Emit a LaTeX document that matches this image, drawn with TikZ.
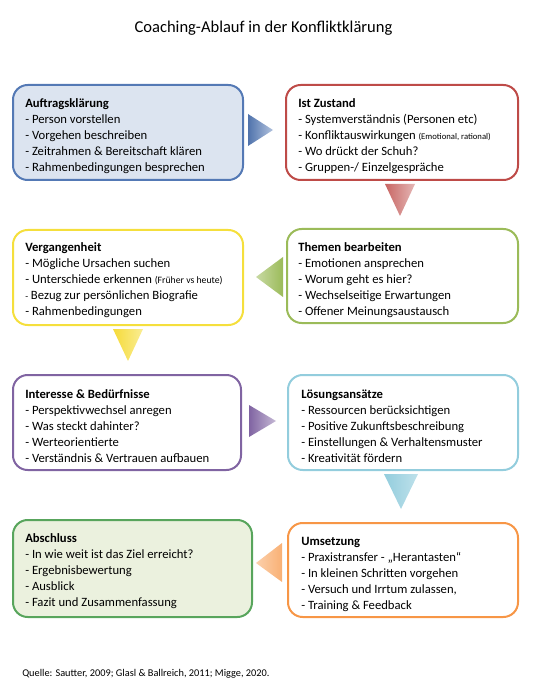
\documentclass[tikz,border=0pt]{standalone}
\usepackage{fontspec}
\setmainfont{Carlito}
\usetikzlibrary{calc}
\definecolor{bBlue}{HTML}{5479B5}
\definecolor{fBlue}{HTML}{DCE4F0}
\definecolor{bRed}{HTML}{BE4B48}
\definecolor{bYellow}{HTML}{F5DF3C}
\definecolor{bGreen}{HTML}{9BBB59}
\definecolor{bPurple}{HTML}{8064A2}
\definecolor{bCyan}{HTML}{93CDDD}
\definecolor{bDGreen}{HTML}{58A55C}
\definecolor{fDGreen}{HTML}{EBF1DE}
\definecolor{bOrange}{HTML}{F79646}
\begin{document}
\begin{tikzpicture}[x=0.75pt,y=-0.75pt,
  box/.style={draw, line width=1.5pt, rounded corners=11pt,
    inner sep=0pt, fill=white,
    minimum width=172.5pt, minimum height=71.25pt},
  txt/.style={anchor=west, align=left, inner sep=0pt, font=\fontsize{9.5}{12}\selectfont},
  tri/.style={draw=none}]
\useasboundingbox (0,0) rectangle (535,691);

\node[font=\fontsize{12.4}{14}\selectfont] (title) at (263.5,28.5) {Coaching-Ablauf in der Konfliktklärung};

\node[box, draw=bBlue, fill=fBlue] (b1) at (128,132.5) {};
\node[box, draw=bRed, minimum width=174pt] (b2) at (402,132.5) {};
\node[box, draw=bYellow] (b3) at (128,277.5) {};
\node[box, draw=bGreen, minimum width=173.25pt, minimum height=70.5pt] (b4) at (402.5,276) {};
\node[box, draw=bPurple, minimum width=171pt] (b5) at (127,422.5) {};
\node[box, draw=bCyan] (b6) at (403,422.5) {};
\node[box, draw=bDGreen, fill=fDGreen, minimum width=179.25pt, minimum height=72.75pt] (b7) at (132.5,568.5) {};
\node[box, draw=bOrange, minimum height=70.5pt] (b8) at (403,570) {};

\node[txt] (t1) at ($(b1.west)+(13,4)$)
  {\textbf{Auftragsklärung}\\- Person vorstellen\\- Vorgehen beschreiben\\- Zeitrahmen \& Bereitschaft klären\\- Rahmenbedingungen besprechen};
\node[txt] (t2) at ($(b2.west)+(13,4)$)
  {\textbf{Ist Zustand}\\- Systemverständnis (Personen etc)\\- Konfliktauswirkungen {\fontsize{6.5}{12}\selectfont (Emotional, rational)}\\- Wo drückt der Schuh?\\- Gruppen-/ Einzelgespräche};
\node[txt] (t3) at ($(b3.west)+(13,3)$)
  {\textbf{Vergangenheit}\\- Mögliche Ursachen suchen\\- Unterschiede erkennen {\fontsize{7.3}{12}\selectfont (Früher vs heute)}\\{\fontsize{7}{12}\selectfont -} Bezug zur persönlichen Biografie\\- Rahmenbedingungen};
\node[txt] (t4) at ($(b4.west)+(12,4)$)
  {\textbf{Themen bearbeiten}\\- Emotionen ansprechen\\- Worum geht es hier?\\- Wechselseitige Erwartungen\\- Offener Meinungsaustausch};
\node[txt] (t5) at ($(b5.west)+(13,4)$)
  {\textbf{Interesse \& Bedürfnisse}\\- Perspektivwechsel anregen\\- Was steckt dahinter?\\- Werteorientierte\\- Verständnis \& Vertrauen aufbauen};
\node[txt] (t6) at ($(b6.west)+(14,4)$)
  {\textbf{Lösungsansätze}\\- Ressourcen berücksichtigen\\- Positive Zukunftsbeschreibung\\- Einstellungen \& Verhaltensmuster\\- Kreativität fördern};
\node[txt] (t7) at ($(b7.west)+(13,3)$)
  {\textbf{Abschluss}\\- In wie weit ist das Ziel erreicht?\\- Ergebnisbewertung\\- Ausblick\\- Fazit und Zusammenfassung};
\node[txt] (t8) at ($(b8.west)+(14,4)$)
  {\textbf{Umsetzung}\\- Praxistransfer - „Herantasten“\\- In kleinen Schritten vorgehen\\- Versuch und Irrtum zulassen,\\- Training \& Feedback};

% connectors (triangles)
\path[tri, left color=bBlue!95!black, right color=bBlue!45]
  ($(b1.east)+(4,-18.5)$) -- ($(b1.east)+(29,-2.5)$) -- ($(b1.east)+(4,13.5)$) -- cycle;
\path[tri, left color=bRed!85, right color=bRed!40]
  ($(b2.south)+(-17,3)$) -- ($(b2.south)+(13,3)$) -- ($(b2.south)+(-2,35)$) -- cycle;
\path[tri, left color=bGreen!55, right color=bGreen]
  ($(b4.west)+(-3,-19)$) -- ($(b4.west)+(-3,21)$) -- ($(b4.west)+(-30,1)$) -- cycle;
\path[tri, left color=bYellow!95!orange, right color=bYellow!55]
  ($(b3.south)+(-15,3)$) -- ($(b3.south)+(15,3)$) -- ($(b3.south)+(0,35)$) -- cycle;
\path[tri, left color=bPurple, right color=bPurple!45]
  ($(b5.east)+(7,-17.5)$) -- ($(b5.east)+(34,-1.5)$) -- ($(b5.east)+(7,14.5)$) -- cycle;
\path[tri, left color=bCyan, right color=bCyan!60]
  ($(b6.south)+(-19,3)$) -- ($(b6.south)+(15,3)$) -- ($(b6.south)+(-2,38)$) -- cycle;
\path[tri, left color=bOrange!45, right color=bOrange!75]
  ($(b8.west)+(-5,-27)$) -- ($(b8.west)+(-5,12)$) -- ($(b8.west)+(-31,-7)$) -- cycle;

\node[anchor=west, inner sep=0pt, font=\fontsize{7.75}{9}\selectfont] (src) at (22,674)
  {Quelle: Sautter, 2009; Glasl \& Ballreich, 2011; Migge, 2020.};
\end{tikzpicture}
\end{document}
